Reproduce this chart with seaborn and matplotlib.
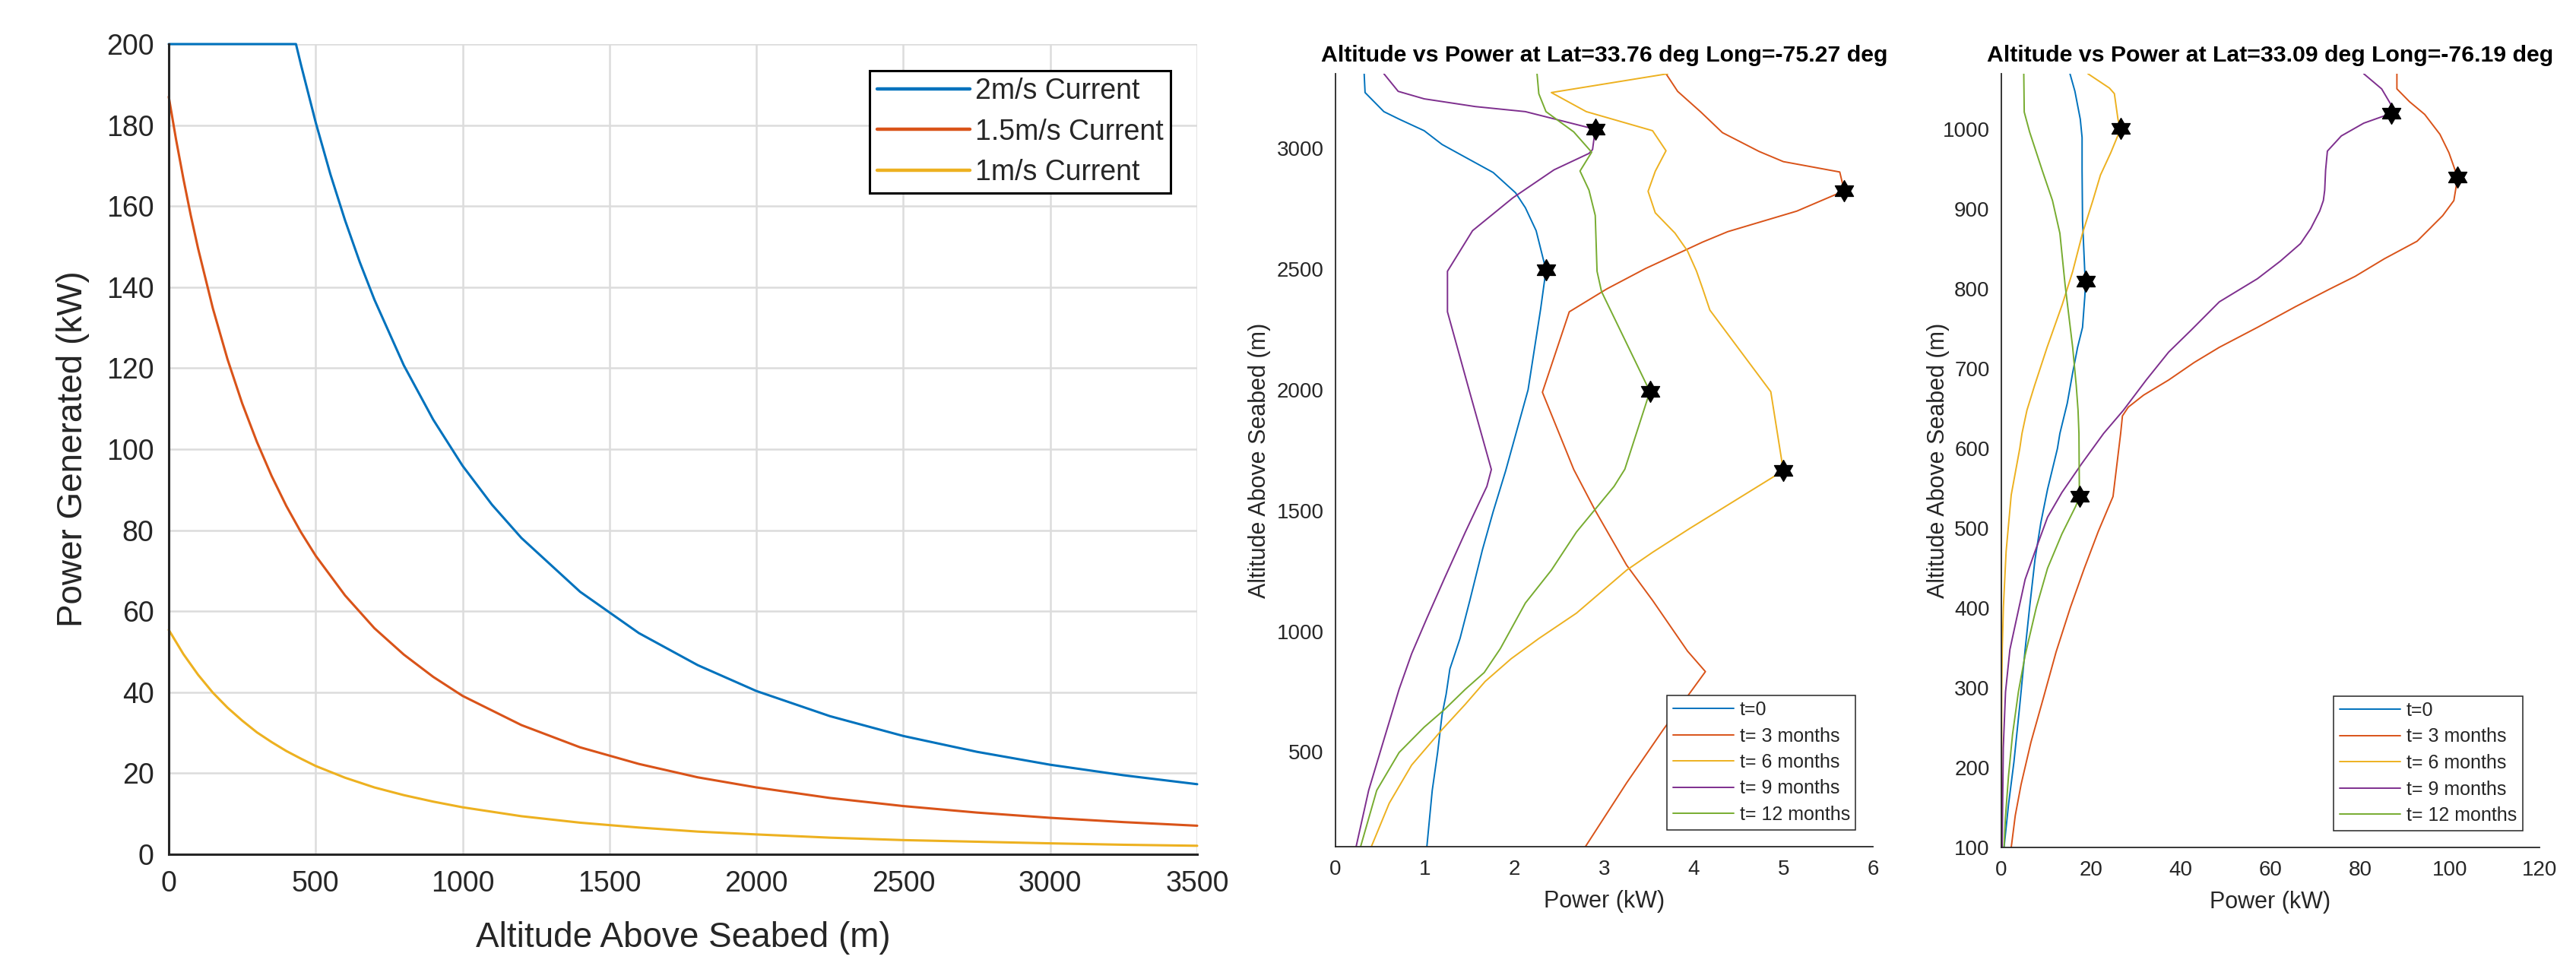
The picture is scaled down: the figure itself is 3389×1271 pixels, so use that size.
import numpy as np
import seaborn as sns
import matplotlib.pyplot as plt
from matplotlib.path import Path

# ---------------- left panel: power vs altitude, three current speeds
alt_2ms = [0, 433, 450, 500, 550, 600, 650, 700, 800, 900, 1000, 1100, 1200, 1400, 1600, 1800,
           2000, 2250, 2500, 2750, 3000, 3250, 3500]
pow_2ms = [200, 200, 194.9, 180.7, 167.9, 156.5, 146.2, 136.9, 120.7, 107.3, 95.9, 86.3, 78.1, 64.8,
           54.6, 46.7, 40.3, 34.1, 29.2, 25.3, 22.1, 19.5, 17.3]

alt_15ms = [0, 25, 50, 75, 100, 150, 200, 250, 300, 350, 400, 450, 500, 600, 700, 800, 900,
            1000, 1200, 1400, 1600, 1800, 2000, 2250, 2500, 2750, 3000, 3250, 3500]
pow_15ms = [187.0, 176.4, 166.7, 157.7, 149.5, 134.8, 122.2, 111.3, 101.8, 93.4, 86.0, 79.5, 73.7,
            63.9, 55.8, 49.3, 43.8, 39.1, 31.9, 26.4, 22.3, 19.0, 16.5, 13.9, 11.9, 10.3, 9.0, 7.94, 7.05]

alt_1ms = [0, 50, 100, 150, 200, 250, 300, 350, 400, 450, 500, 600, 700, 800, 900, 1000, 1200,
           1400, 1600, 1800, 2000, 2250, 2500, 2750, 3000, 3250, 3500]
pow_1ms = [55.4, 49.4, 44.3, 39.9, 36.2, 33.0, 30.1, 27.7, 25.5, 23.6, 21.8, 18.9, 16.5, 14.6, 13.0,
           11.6, 9.4, 7.8, 6.6, 5.6, 4.9, 4.1, 3.5, 3.1, 2.7, 2.35, 2.1]

left_labels = ["2m/s Current", "1.5m/s Current", "1m/s Current"]

# ---------------- middle panel: Lat=33.76 Long=-75.27
mid_alt_t0 = [108, 341, 498, 655, 739, 844, 970, 1128, 1337, 1495, 1665, 2000, 2334, 2496,
              2659, 2754, 2816, 2900, 2963, 3016, 3073, 3121, 3152, 3231, 3309]
mid_pow_t0 = [1.02, 1.08, 1.14, 1.19, 1.235, 1.277, 1.39, 1.50, 1.64, 1.76, 1.90, 2.15, 2.29, 2.35,
              2.24, 2.12, 2.01, 1.76, 1.45, 1.19, 0.99, 0.71, 0.54, 0.33, 0.32]

mid_alt_t3 = [108, 372, 593, 833, 918, 1128, 1274, 1500, 1670, 1990, 2323, 2418, 2502, 2612,
              2655, 2740, 2824, 2902, 2945, 2987, 3065, 3150, 3236, 3309]
mid_pow_t3 = [2.79, 3.25, 3.66, 4.13, 3.93, 3.54, 3.25, 2.90, 2.66, 2.31, 2.61, 3.03, 3.46, 4.10,
              4.38, 5.15, 5.68, 5.63, 5.00, 4.73, 4.32, 4.08, 3.82, 3.69]

mid_alt_t6 = [108, 288, 446, 593, 698, 792, 886, 970, 1075, 1253, 1327, 1427, 1500, 1665, 1992,
              2330, 2418, 2492, 2575, 2649, 2733, 2822, 2905, 2990, 3073, 3152, 3231, 3309]
mid_pow_t6 = [0.40, 0.60, 0.85, 1.19, 1.45, 1.67, 1.96, 2.27, 2.69, 3.25, 3.54, 3.96, 4.28, 5.00, 4.86,
              4.18, 4.10, 4.03, 3.93, 3.79, 3.57, 3.49, 3.57, 3.69, 3.54, 2.80, 2.41, 3.71]

mid_alt_t9 = [108, 341, 551, 760, 907, 1054, 1222, 1411, 1600, 1670, 1988, 2323, 2491, 2659,
              2795, 2911, 2979, 2995, 3079, 3152, 3173, 3205, 3236, 3309]
mid_pow_t9 = [0.23, 0.37, 0.54, 0.71, 0.85, 1.02, 1.22, 1.45, 1.69, 1.74, 1.50, 1.25, 1.25, 1.53,
              1.98, 2.44, 2.83, 2.87, 2.90, 2.12, 1.56, 0.99, 0.70, 0.54]

mid_alt_t12 = [108, 341, 498, 603, 677, 760, 829, 928, 1117, 1253, 1411, 1600, 1671, 1993, 2407,
               2491, 2722, 2827, 2906, 2984, 3068, 3152, 3226, 3309]
mid_pow_t12 = [0.28, 0.46, 0.71, 0.99, 1.22, 1.45, 1.66, 1.84, 2.12, 2.41, 2.69, 3.11, 3.23, 3.51, 2.97,
               2.92, 2.90, 2.83, 2.73, 2.86, 2.66, 2.35, 2.27, 2.25]

# ---------------- right panel: Lat=33.09 Long=-76.19
r_alt_t0 = [100, 154, 207, 278, 348, 401, 461, 507, 549, 600, 619, 657, 695, 727, 752, 790,
            810, 822, 886, 949, 990, 1013, 1048, 1070]
r_pow_t0 = [0.6, 1.6, 2.8, 4.1, 5.3, 6.3, 7.5, 8.8, 10.3, 12.5, 13.05, 14.7, 15.9, 17.0, 18.1, 18.6,
            18.8, 18.6, 18.1, 18.0, 18.0, 17.6, 16.4, 15.3]

r_alt_t3 = [100, 140, 179, 232, 288, 345, 401, 450, 496, 540, 619, 641, 652, 667, 686, 708, 727,
            752, 778, 800, 816, 838, 860, 892, 911, 940, 971, 994, 1019, 1035, 1051, 1070]
r_pow_t3 = [2.2, 3.1, 4.4, 6.6, 9.4, 12.2, 15.4, 18.5, 21.6, 24.9, 26.6, 27.0, 28.3, 31.7, 37.3, 43.0, 48.6,
            57.1, 65.6, 73.2, 78.9, 85.4, 92.7, 98.4, 100.9, 101.75, 99.8, 97.8, 94.4, 91.0, 88.2, 88.2]

r_alt_t6 = [100, 200, 295, 348, 401, 471, 542, 600, 619, 648, 679, 727, 781, 822, 870, 911, 943,
            971, 1001, 1013, 1045, 1052, 1070]
r_pow_t6 = [0.05, 0.05, 0.08, 0.2, 0.45, 1.06, 2.2, 4.1, 4.6, 5.7, 7.4, 10.2, 13.6, 15.9, 18.1, 20.4, 22.1,
            24.4, 26.6, 26.0, 25.2, 24.1, 19.3]

r_alt_t9 = [100, 225, 295, 348, 387, 436, 471, 514, 545, 581, 619, 648, 686, 721, 749, 784, 813,
            835, 857, 876, 898, 911, 924, 949, 973, 992, 1008, 1016, 1020, 1032, 1051, 1070]
r_pow_t9 = [0.18, 0.43, 0.93, 1.9, 3.4, 5.3, 7.5, 10.3, 13.5, 17.9, 22.8, 27.2, 32.3, 37.3, 42.4, 48.6, 57.1,
            62.2, 66.7, 69.0, 71.0, 71.8, 72.1, 72.3, 72.7, 75.8, 80.8, 84.8, 86.95, 86.8, 84.8, 80.8]

r_alt_t12 = [100, 137, 190, 242, 295, 341, 401, 450, 493, 528, 540, 580, 619, 648, 679, 727, 806,
             870, 911, 949, 997, 1022, 1070]
r_pow_t12 = [0.6, 0.9, 1.6, 2.5, 3.8, 5.3, 7.8, 10.3, 13.5, 16.6, 17.4, 17.35, 17.3, 17.1, 16.7, 15.9, 14.2,
             13.05, 11.4, 9.1, 6.3, 5.1, 5.0]

time_labels = ["t=0", "t= 3 months", "t= 6 months", "t= 9 months", "t= 12 months"]
colors = ["#0072BD", "#D95319", "#EDB120", "#7E2F8E", "#77AC30"]
ink = "#262626"

sns.set_style("white")
plt.rcParams["font.family"] = ["Liberation Sans", "DejaVu Sans"]

# six pointed star marker (matlab hexagram)
a_out = np.deg2rad(90 + 60 * np.arange(6))
a_in = a_out + np.deg2rad(30)
verts = []
for a, b in zip(a_out, a_in):
    verts.append((np.cos(a), np.sin(a)))
    verts.append((np.cos(b) / np.sqrt(3), np.sin(b) / np.sqrt(3)))
verts.append(verts[0])
hexagram = Path(verts, closed=True)

W, H = 3389, 1271
fig = plt.figure(figsize=(W / 100, H / 100), dpi=100)


def box(l, t, r, b):
    return [l / W, 1 - b / H, (r - l) / W, (b - t) / H]


# ---- left
ax0 = fig.add_axes(box(222, 58, 1575, 1124))
for al, pw, lab, c in zip([alt_2ms, alt_15ms, alt_1ms], [pow_2ms, pow_15ms, pow_1ms],
                          left_labels, colors):
    sns.lineplot(x=al, y=pw, ax=ax0, color=c, lw=2.2, label=lab, estimator=None, sort=False,
                 clip_on=False)
ax0.set_xlim(0, 3500)
ax0.set_ylim(0, 200)
ax0.set_xticks(range(0, 3501, 500))
ax0.set_yticks(range(0, 201, 20))
ax0.grid(True, color="#dcdcdc", lw=1.8)
ax0.set_axisbelow(True)
for s in ["top", "right"]:
    ax0.spines[s].set_visible(False)
for s in ["left", "bottom"]:
    ax0.spines[s].set_linewidth(2.2)
    ax0.spines[s].set_color(ink)
ax0.tick_params(direction="in", length=9.4, width=2, labelsize=27, colors=ink)
ax0.tick_params(axis="x", pad=15)
ax0.tick_params(axis="y", pad=14)
ax0.set_xlabel("Altitude Above Seabed (m)", fontsize=33, color=ink)
ax0.set_ylabel("Power Generated (kW)", fontsize=33, color=ink)
ax0.xaxis.set_label_coords(0.5, -0.0826)
ax0.yaxis.set_label_coords(-0.0772, 0.5)
leg = ax0.legend(loc="upper right", fontsize=27, frameon=True, fancybox=False, framealpha=1,
                 edgecolor="black", borderpad=0.25, labelspacing=0.46, handlelength=3.25,
                 handletextpad=0.2, borderaxespad=0.93)
leg.get_frame().set_linewidth(2.2)
for h in leg.get_lines():
    h.set_linewidth(3.2)


# ---- profile panels
def profile(ax, alts, pows, title, xlim, xticks, ylim, yticks, ylab_x):
    for al, pw, lab, c in zip(alts, pows, time_labels, colors):
        sns.lineplot(x=pw, y=al, ax=ax, color=c, lw=1.4, label=lab, orient="y",
                     estimator=None, sort=False)
    for al, pw in zip(alts, pows):
        k = int(np.argmax(pw))
        ax.plot(pw[k], al[k], marker=hexagram, ms=20, color="black", ls="none", zorder=5)
    ax.set_xlim(*xlim)
    ax.set_ylim(*ylim)
    ax.set_xticks(xticks)
    ax.set_yticks(yticks)
    for s in ["top", "right"]:
        ax.spines[s].set_visible(False)
    for s in ["left", "bottom"]:
        ax.spines[s].set_linewidth(1.3)
        ax.spines[s].set_color(ink)
    ax.tick_params(direction="in", length=5.8, width=1.3, labelsize=20, colors=ink)
    ax.tick_params(axis="x", pad=12)
    ax.tick_params(axis="y", pad=11)
    ax.set_title(title, fontsize=21.8, fontweight="bold", pad=11.5, color="black")
    ax.set_xlabel("Power (kW)", fontsize=22, color=ink)
    ax.set_ylabel("Altitude Above Seabed (m)", fontsize=22, color=ink)
    ax.xaxis.set_label_coords(0.5, -0.056)
    ax.yaxis.set_label_coords(ylab_x, 0.5)
    lg = ax.legend(loc="lower right", fontsize=18, frameon=True, fancybox=False, framealpha=1,
                   edgecolor=ink, borderpad=0.3, labelspacing=0.42, handlelength=3.2,
                   handletextpad=0.32, borderaxespad=0.9)
    lg.get_frame().set_linewidth(1.1)


ax1 = fig.add_axes(box(1757, 97, 2464, 1114))
profile(ax1, [mid_alt_t0, mid_alt_t3, mid_alt_t6, mid_alt_t9, mid_alt_t12],
        [mid_pow_t0, mid_pow_t3, mid_pow_t6, mid_pow_t9, mid_pow_t12],
        "Altitude vs Power at Lat=33.76 deg Long=-75.27 deg",
        (0, 6), range(0, 7), (108, 3309), range(500, 3001, 500), -0.120)

ax2 = fig.add_axes(box(2633, 97, 3341, 1115))
profile(ax2, [r_alt_t0, r_alt_t3, r_alt_t6, r_alt_t9, r_alt_t12],
        [r_pow_t0, r_pow_t3, r_pow_t6, r_pow_t9, r_pow_t12],
        "Altitude vs Power at Lat=33.09 deg Long=-76.19 deg",
        (0, 120), range(0, 121, 20), (100, 1070), range(100, 1001, 100), -0.096)

fig.savefig("out.png", dpi=100)
